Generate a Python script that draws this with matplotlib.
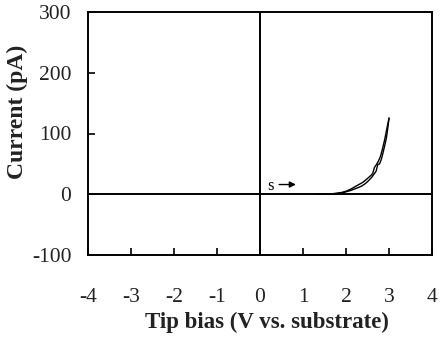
import matplotlib
matplotlib.use("Agg")
import matplotlib.pyplot as plt

# Data
V_fwd = [1.30, 1.50, 1.70, 1.90, 2.00, 2.10, 2.20, 2.30, 2.40, 2.50, 2.58, 2.62, 2.66, 2.70, 2.75, 2.80, 2.85, 2.90, 2.95, 3.00]
I_fwd = [0, 0, 1, 3, 5, 8, 12, 16, 20, 26, 31, 34, 44, 48, 54, 62, 75, 90, 108, 125]
V_rev = [3.00, 2.97, 2.94, 2.90, 2.86, 2.82, 2.78, 2.74, 2.70, 2.66, 2.60, 2.52, 2.44, 2.35, 2.25, 2.10, 1.95, 1.80, 1.60, 1.40]
I_rev = [125, 108, 93, 80, 68, 57, 50, 49, 38, 34, 28, 22, 17, 13, 10, 6, 3, 1, 0, 0]

x_ticks = [-4, -3, -2, -1, 0, 1, 2, 3, 4]
x_ticklabels = ["-4", "-3", "-2", "-1", "0", "1", "2", "3", "4"]
y_ticks = [-100, 0, 100, 200, 300]
y_ticklabels = ["-100", "0", "100", "200", "300"]

plt.rcParams['font.family'] = ['Liberation Serif', 'DejaVu Serif']

fig = plt.figure(figsize=(4.4, 3.42), dpi=100)
ax = fig.add_axes([88/440, 87/342, 344/440, 243/342])

ax.plot(V_fwd, I_fwd, color='black', lw=1.0)
ax.plot(V_rev, I_rev, color='black', lw=1.0)

ax.axhline(0, color='black', lw=1.4)
ax.axvline(0, color='black', lw=1.4)

ax.set_xlim(-4, 4)
ax.set_ylim(-100, 300)
ax.set_xticks(x_ticks)
ax.set_xticklabels(x_ticklabels)
ax.set_yticks(y_ticks)
ax.set_yticklabels(y_ticklabels)
ax.tick_params(axis='x', direction='in', length=5, width=1.2, pad=24, labelsize=15.5, colors='#222222')
ax.tick_params(axis='y', direction='in', length=5, width=1.2, pad=12, labelsize=15.5, colors='#222222')
ax.tick_params(axis='both', color='black')
for s in ax.spines.values():
    s.set_linewidth(1.4)

ax.set_xlabel("Tip bias (V vs. substrate)", fontsize=16.5, fontweight='bold', color='#222222')
ax.xaxis.set_label_coords(0.52, -0.235)
ax.set_ylabel("Current (pA)", fontsize=17, fontweight='bold', color='#222222')
ax.yaxis.set_label_coords(-0.174, 0.59)

ax.text(0.18, 14, "s", fontsize=12, ha='left', va='center')
ax.annotate("", xy=(0.9, 16), xytext=(0.38, 16),
            arrowprops=dict(arrowstyle='-|>', color='black', lw=1.0, mutation_scale=9))

fig.savefig("out.png", dpi=100)
